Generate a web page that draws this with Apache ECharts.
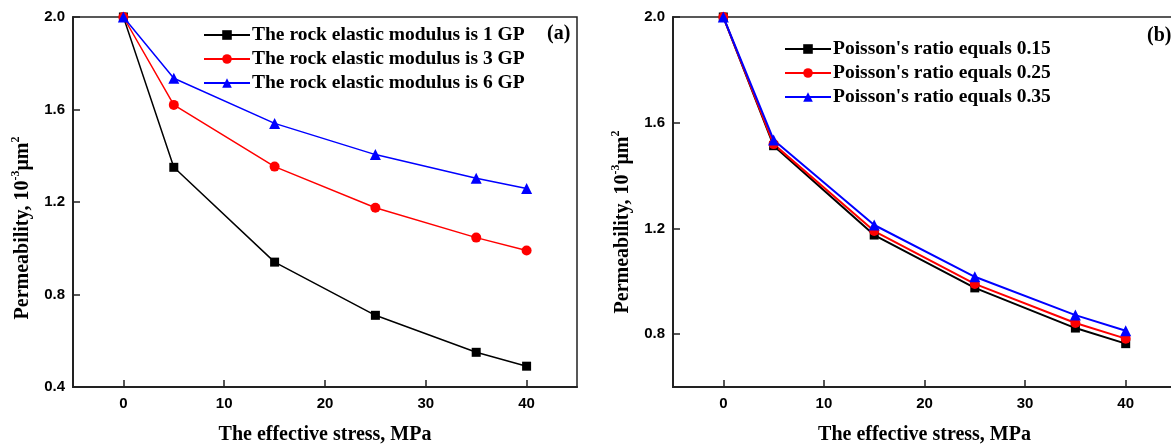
<!DOCTYPE html>
<html>
<head>
<meta charset="utf-8">
<script src="https://cdn.jsdelivr.net/npm/echarts@6/dist/echarts.min.js"></script>
<style>
	html, body { margin: 0; padding: 0; background: #fff; }
	#main { width: 1171px; height: 445px; }
</style>
</head>
<body>
<div id="main"></div>
<script>
// effective stress, MPa
var stress = [0, 5, 15, 25, 35, 40];
// (a) elastic modulus cases
var modulus1 = [2.0, 1.35, 0.94, 0.71, 0.55, 0.49];
var modulus3 = [2.0, 1.62, 1.353, 1.175, 1.046, 0.99];
var modulus6 = [2.0, 1.735, 1.54, 1.405, 1.303, 1.258];
// (b) poisson's ratio cases
var poisson015 = [2.0, 1.513, 1.175, 0.975, 0.823, 0.764];
var poisson025 = [2.0, 1.519, 1.19, 0.99, 0.842, 0.783];
var poisson035 = [2.0, 1.535, 1.213, 1.017, 0.872, 0.813];
// tick labels
var xTicks = [0, 10, 20, 30, 40];
var yTicksA = [0.4, 0.8, 1.2, 1.6, 2.0];
var yTicksB = [0.8, 1.2, 1.6, 2.0];

function pairs (ys) {
	return stress.map(function (x, i) { return [x, ys[i]]; });
}

var serif = '"Liberation Serif", "Times New Roman", serif';
var sans = '"Liberation Sans", Arial, sans-serif';
var axisColor = '#222';

function xAxis (idx) {
	return {
		type: 'value', gridIndex: idx, min: -5, max: 45,
		name: 'The effective stress, MPa',
		nameLocation: 'middle', nameGap: 38,
		nameTextStyle: { fontFamily: serif, fontWeight: 'bold', fontSize: 20, color: '#000' },
		axisLine: { lineStyle: { color: axisColor, width: 2 } },
		axisTick: { inside: true, length: 7, customValues: xTicks, lineStyle: { color: axisColor, width: 1.5 } },
		axisLabel: { customValues: xTicks, margin: 9, fontFamily: sans, fontWeight: 'bold', fontSize: 15, color: '#000' },
		splitLine: { show: false }
	};
}

// shift: moves the rotated title down the axis (the source figure is not centred)
function yAxis (idx, min, ticks, shift) {
	return {
		type: 'value', gridIndex: idx, min: min, max: 2.0,
		name: 'Permeability, 10{sup|-3}μm{sup|2}',
		nameLocation: 'middle', nameGap: 37,
		nameTextStyle: {
			fontFamily: serif, fontWeight: 'bold', fontSize: 20, color: '#000', lineHeight: 26,
			padding: [0, shift * 2, 0, 0],
			rich: { sup: { fontFamily: serif, fontWeight: 'bold', fontSize: 12, color: '#000', verticalAlign: 'top', lineHeight: 13 } }
		},
		axisLine: { onZero: false, lineStyle: { color: axisColor, width: 2 } },
		axisTick: { inside: true, length: 7, customValues: ticks, lineStyle: { color: axisColor, width: 1.5 } },
		axisLabel: {
			customValues: ticks, margin: 8, fontFamily: sans, fontWeight: 'bold', fontSize: 15, color: '#000',
			formatter: function (v) { return v.toFixed(1); }
		},
		splitLine: { show: false }
	};
}

function line (name, data, color, symbol, size, idx, width) {
	return {
		name: name, type: 'line', xAxisIndex: idx, yAxisIndex: idx,
		data: pairs(data), symbol: symbol, symbolSize: size,
		lineStyle: { color: color, width: width },
		itemStyle: { color: color },
		emphasis: { disabled: true }
	};
}

function legend (idx, left, top, names) {
	return {
		orient: 'vertical', left: left, top: top, data: names,
		itemWidth: 46, itemHeight: 12, itemGap: 4,
		textStyle: { fontFamily: serif, fontWeight: 'bold', fontSize: 19.5, lineHeight: 20, color: '#000', padding: [0, 0, 0, -3] }
	};
}

var namesA = ['The rock elastic modulus is 1 GP', 'The rock elastic modulus is 3 GP', 'The rock elastic modulus is 6 GP'];
var namesB = ["Poisson's ratio equals 0.15", "Poisson's ratio equals 0.25", "Poisson's ratio equals 0.35"];

var myChart = echarts.init(document.getElementById('main'));
var option = {
	animation: false,
	backgroundColor: '#fff',
	title: [
		{ text: '(a)', left: 542, top: 19, textStyle: { fontFamily: serif, fontWeight: 'bold', fontSize: 20, color: '#000' } },
		{ text: '(b)', left: 1142, top: 21, textStyle: { fontFamily: serif, fontWeight: 'bold', fontSize: 20, color: '#000' } }
	],
	grid: [
		{ left: 73, top: 17, width: 504, height: 370, show: true, borderColor: axisColor, borderWidth: 1.5, outerBoundsMode: 'none' },
		{ left: 673, top: 17, width: 503, height: 370, show: true, borderColor: axisColor, borderWidth: 1.5, outerBoundsMode: 'none' }
	],
	legend: [
		legend(0, 198, 20, namesA),
		legend(1, 779, 34, namesB)
	],
	xAxis: [xAxis(0), xAxis(1)],
	yAxis: [yAxis(0, 0.4, yTicksA, 26), yAxis(1, 0.6, yTicksB, 20)],
	series: [
		line(namesA[0], modulus1, '#000', 'rect', 9, 0, 1.5),
		line(namesA[1], modulus3, '#ff0000', 'circle', 10, 0, 1.5),
		line(namesA[2], modulus6, '#0000ff', 'triangle', 11, 0, 1.5),
		line(namesB[0], poisson015, '#000', 'rect', 9, 1, 2),
		line(namesB[1], poisson025, '#ff0000', 'circle', 10, 1, 2),
		line(namesB[2], poisson035, '#0000ff', 'triangle', 11, 1, 2)
	]
};
myChart.setOption(option);
</script>
</body>
</html>
